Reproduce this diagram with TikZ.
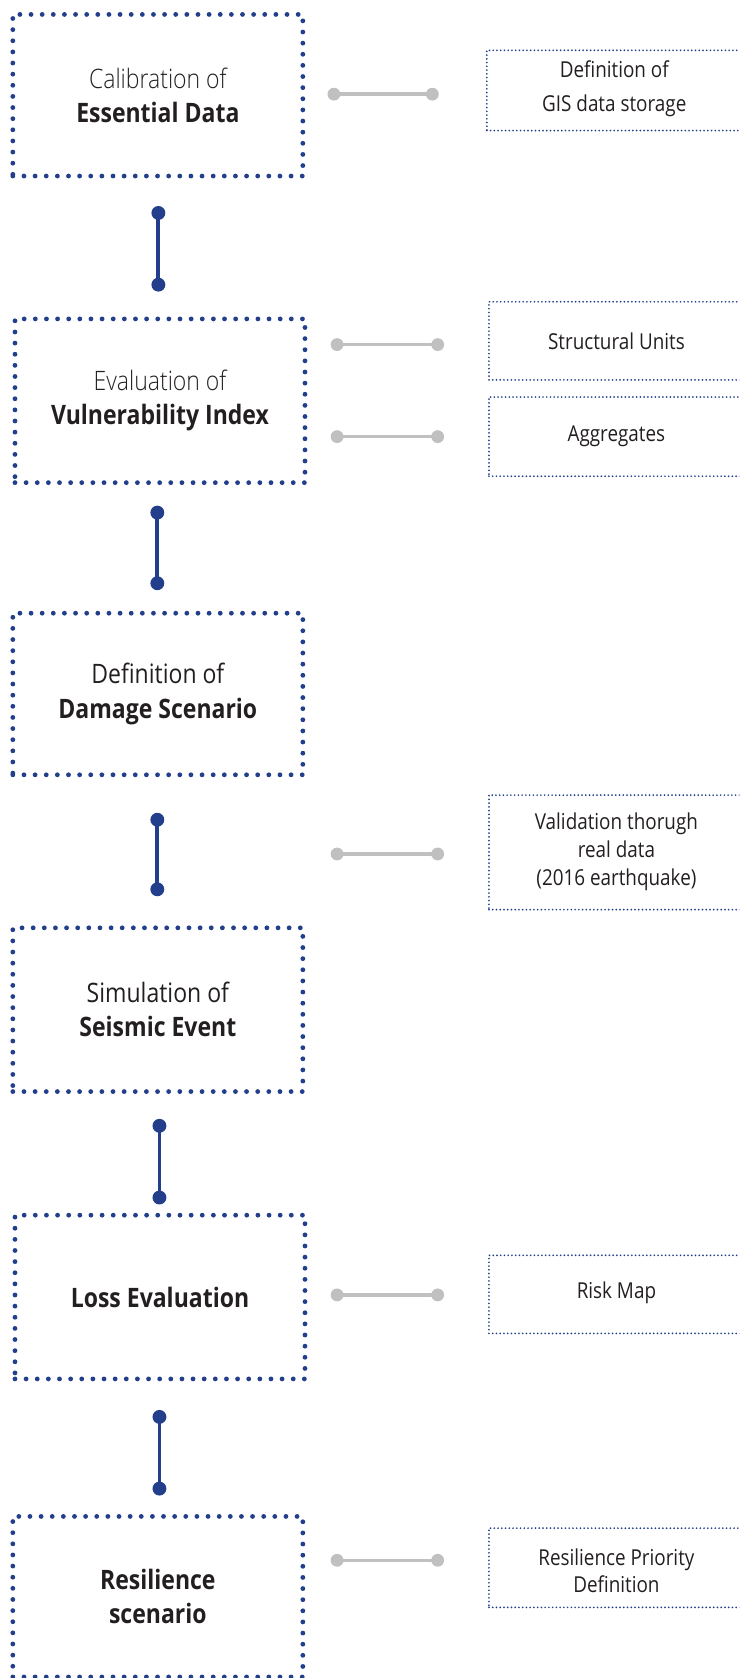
\documentclass[tikz,border=0pt]{standalone}
\usepackage{fontspec}
\setmainfont[FakeStretch=0.86]{Open Sans}
\newfontfamily\lightfont[FakeStretch=0.86]{Open Sans Light}
\usetikzlibrary{calc}
\definecolor{dblue}{HTML}{233F8C}
\definecolor{lgrey}{HTML}{C0C0C0}
\definecolor{txt}{HTML}{231F20}
\tikzset{
  bigbox/.style={draw=dblue, line width=4.5pt, dash pattern=on 0pt off 10.4pt, line cap=round,
    minimum width=271pt, minimum height=151pt, inner sep=0pt, align=center,
    font=\fontsize{25}{32}\selectfont, text=txt},
  smallbox/.style={draw=dblue, line width=1.8pt, dash pattern=on 0pt off 3.5pt, line cap=round,
    minimum width=270pt, inner sep=0pt, anchor=west},
  smalltext/.style={align=center, text=txt, font=\fontsize{20.5}{26}\selectfont},
  bluelink/.style={draw=dblue, line width=3.6pt},
  greylink/.style={draw=lgrey, line width=3.2pt},
  bluedot/.style={fill=dblue},
  greydot/.style={fill=lgrey},
}
\newcommand{\bl}[2]{\draw[bluelink] (#1) -- (#2); \fill[bluedot] (#1) circle (6.5pt); \fill[bluedot] (#2) circle (6.5pt);}
\newcommand{\gl}[2]{\draw[greylink] (#1) -- (#2); \fill[greydot] (#1) circle (6pt); \fill[greydot] (#2) circle (6pt);}
\begin{document}
\begin{tikzpicture}[x=1pt,y=-1pt]
\useasboundingbox (0,0) rectangle (691,1568);
\clip (0,0) rectangle (691,1568);
% main boxes
\node[bigbox] (A) at (147.5,89) {{\lightfont Calibration of}\\\textbf{Essential Data}};
\node[bigbox, minimum height=153pt] (B) at (149.5,374.5) {{\lightfont Evaluation of}\\\textbf{Vulnerability Index}};
\node[bigbox] (C) at (147.5,648.5) {Definition of\\\textbf{Damage Scenario}};
\node[bigbox, minimum height=153pt] (D) at (147.5,943.5) {Simulation of\\\textbf{Seismic Event}};
\node[bigbox, minimum height=153pt] (E) at (149.5,1212) {\textbf{Loss Evaluation}};
\node[bigbox, minimum height=150pt] (F) at (147.5,1492) {\textbf{Resilience}\\\textbf{scenario}};
% right boxes
\node[smallbox, minimum height=75pt] (A1) at (454,84.5) {};
\node[smalltext, font=\fontsize{20.5}{32}\selectfont] (A1t) at (574,83) {Definition of\\GIS data storage};
\node[smallbox, minimum height=73pt] (B1) at (456,318.5) {};
\node[smalltext] (B1t) at (576,319) {Structural Units};
\node[smallbox, minimum height=74pt] (B2) at (456,408) {};
\node[smalltext] (B2t) at (576,408) {Aggregates};
\node[smallbox, minimum height=107pt] (C1) at (456,796.5) {};
\node[smalltext] (C1t) at (576,796) {Validation thorugh\\real data\\(2016 earthquake)};
\node[smallbox, minimum height=73pt] (E1) at (456,1209.5) {};
\node[smalltext] (E1t) at (576,1208) {Risk Map};
\node[smallbox, minimum height=74pt] (F1) at (456,1465) {};
\node[smalltext, font=\fontsize{20.5}{25}\selectfont] (F1t) at (576,1468) {Resilience Priority\\Definition};
% grey connectors
\coordinate (g1a) at (312,88); \coordinate (g1b) at (404,88);
\coordinate (g2a) at (315,322); \coordinate (g2b) at (409,322);
\coordinate (g3a) at (315,408); \coordinate (g3b) at (409,408);
\coordinate (g4a) at (315,798); \coordinate (g4b) at (409,798);
\coordinate (g5a) at (315,1210); \coordinate (g5b) at (409,1210);
\coordinate (g6a) at (315,1458); \coordinate (g6b) at (409,1458);
\gl{g1a}{g1b}\gl{g2a}{g2b}\gl{g3a}{g3b}\gl{g4a}{g4b}\gl{g5a}{g5b}\gl{g6a}{g6b}
% blue connectors
\coordinate (b1a) at (148,199); \coordinate (b1b) at (148,266);
\coordinate (b2a) at (147,479); \coordinate (b2b) at (147,545);
\coordinate (b3a) at (147,766); \coordinate (b3b) at (147,831);
\coordinate (b4a) at (149,1052); \coordinate (b4b) at (149,1119);
\coordinate (b5a) at (149,1324); \coordinate (b5b) at (149,1391);
\bl{b1a}{b1b}\bl{b2a}{b2b}\bl{b3a}{b3b}\bl{b4a}{b4b}\bl{b5a}{b5b}
\end{tikzpicture}
\end{document}
